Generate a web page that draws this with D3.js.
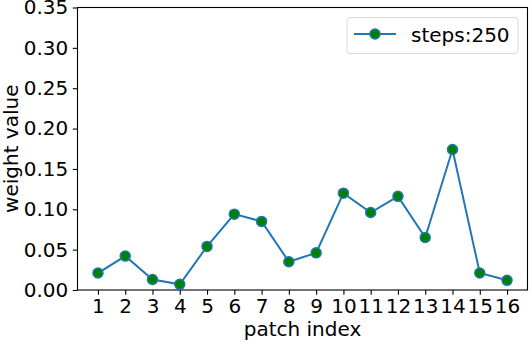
<!DOCTYPE html>
<html>
<head>
<meta charset="utf-8">
<script src="https://cdn.jsdelivr.net/npm/d3@7"></script>
<style>
  body { margin: 0; background: #fff; }
  svg text { font-family: "DejaVu Sans", sans-serif; fill: #000; }
</style>
</head>
<body>
<div id="root"></div>
<script>
// data
const patches = [1, 2, 3, 4, 5, 6, 7, 8, 9, 10, 11, 12, 13, 14, 15, 16]
const weights = [0.021, 0.042, 0.013, 0.007, 0.054, 0.094, 0.085, 0.035,
                 0.046, 0.120, 0.096, 0.116, 0.065, 0.174, 0.021, 0.012]
const yTicks = [0, 0.05, 0.10, 0.15, 0.20, 0.25, 0.30, 0.35]
const seriesName = "steps:250"

const w = 532, h = 344
const m = {left: 77.5, right: 527.5, top: 7.5, bottom: 290}
const fs = 20

//scales
const x = d3.scaleLinear().domain([0.25, 16.75]).range([m.left, m.right])
const y = d3.scaleLinear().domain([0, 0.35]).range([m.bottom, m.top])

const svg = d3.select("#root").append("svg")
    .attr("width", w)
    .attr("height", h)

// axes
const xAxis = d3.axisBottom(x).tickValues(patches).tickFormat(d3.format("d"))
    .tickSize(4.7).tickPadding(4)
const yAxis = d3.axisLeft(y).tickValues(yTicks).tickFormat(d3.format(".2f"))
    .tickSize(4.7).tickPadding(4.5)

const gx = svg.append("g").attr("transform", `translate(0,${m.bottom})`).call(xAxis)
const gy = svg.append("g").attr("transform", `translate(${m.left},0)`).call(yAxis)
;[gx, gy].forEach(g => {
    g.select(".domain").remove()
    g.selectAll("line").attr("stroke", "#000").attr("stroke-width", 1.1)
    g.selectAll("text").attr("font-size", fs).style("font-family", "DejaVu Sans")
})

// frame
svg.append("rect")
    .attr("x", m.left).attr("y", m.top)
    .attr("width", m.right - m.left).attr("height", m.bottom - m.top)
    .attr("fill", "none").attr("stroke", "#000").attr("stroke-width", 1.1)

// line + markers
const data = patches.map((p, i) => ({p: p, v: weights[i]}))
svg.append("path").datum(data)
    .attr("fill", "none")
    .attr("stroke", "#1f77b4")
    .attr("stroke-width", 2)
    .attr("d", d3.line().x(d => x(d.p)).y(d => y(d.v)))

svg.selectAll("circle.pt").data(data).enter().append("circle")
    .classed("pt", true)
    .attr("cx", d => x(d.p))
    .attr("cy", d => y(d.v))
    .attr("r", 5)
    .attr("fill", "#008000")
    .attr("stroke", "#1f77b4")
    .attr("stroke-width", 1.5)

// axis labels
svg.append("text")
    .attr("x", (m.left + m.right) / 2).attr("y", 335.5)
    .attr("text-anchor", "middle").attr("font-size", fs)
    .text("patch index")

svg.append("text")
    .attr("transform", `translate(17.5,${(m.top + m.bottom) / 2}) rotate(-90)`)
    .attr("text-anchor", "middle").attr("font-size", fs)
    .text("weight value")

// legend
const legend = svg.append("g")
legend.append("rect")
    .attr("x", 347).attr("y", 17.5)
    .attr("width", 171).attr("height", 36).attr("rx", 3)
    .attr("fill", "#fff").attr("stroke", "#d9d9d9").attr("stroke-width", 1)
legend.append("line")
    .attr("x1", 354).attr("x2", 396).attr("y1", 34).attr("y2", 34)
    .attr("stroke", "#1f77b4").attr("stroke-width", 2)
legend.append("circle")
    .attr("cx", 375).attr("cy", 34).attr("r", 5)
    .attr("fill", "#008000").attr("stroke", "#1f77b4").attr("stroke-width", 1.5)
legend.append("text")
    .attr("x", 411).attr("y", 41.5).attr("font-size", fs)
    .text(seriesName)
</script>
</body>
</html>
